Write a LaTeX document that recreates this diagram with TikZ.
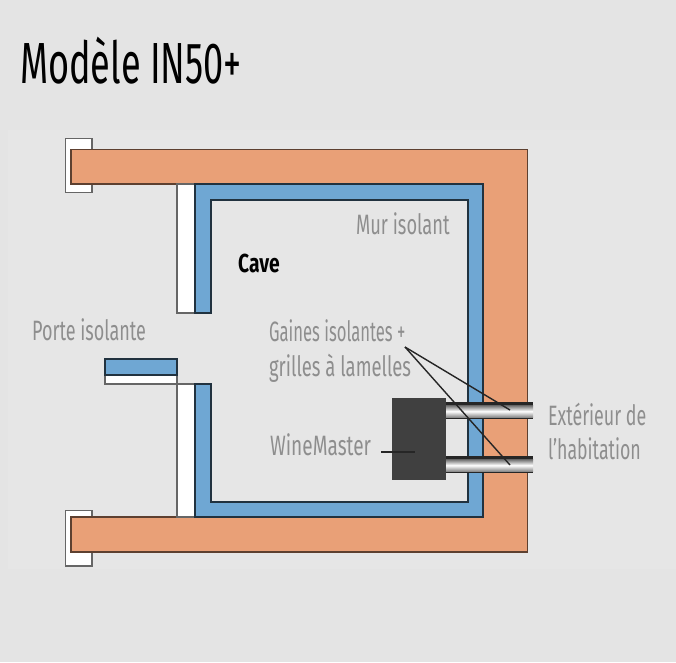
\documentclass[tikz,border=0pt]{standalone}
\usepackage{fontspec}
\setmainfont{Fira Sans}
\definecolor{bg}{HTML}{E4E4E4}
\definecolor{bglight}{HTML}{E6E6E6}
\definecolor{brick}{HTML}{E9A077}
\definecolor{insul}{HTML}{6FA7D3}
\definecolor{lab}{HTML}{8E8E8E}
\definecolor{dev}{HTML}{404040}
\tikzset{
  x=1pt,y=-1pt,
  wall/.style={fill=brick,draw=brick!40!black,line width=1.2pt,line join=miter},
  blue/.style={fill=insul,draw=insul!30!black,line width=1.2pt},
  whitebox/.style={fill=white,draw=black!60,line width=1.5pt},
  lbl/.style={text=lab,font=\fontsize{28}{32}\selectfont,inner sep=0pt,align=left,anchor=west},
  leader/.style={draw=black!85,line width=1.4pt},
}
\begin{document}
\begin{tikzpicture}
\useasboundingbox (0,0) rectangle (676,662);
\fill[bg] (0,0) rectangle (676,662);
\fill[bglight] (8,130) rectangle (676,569);
% brackets
\draw[whitebox] (65.5,138.5) rectangle (92,192.5);
\draw[whitebox] (65.5,510.5) rectangle (92,566);
% orange wall
\draw[wall] (71,149.5) -- (527.5,149.5) -- (527.5,552) -- (71,552) -- (71,517) -- (483,517) -- (483,184) -- (71,184) -- cycle;
% white liners
\draw[whitebox] (177,184) rectangle (195,313);
\draw[whitebox] (177,384) rectangle (195,517);
% blue insulation
\draw[blue] (195,184) -- (483,184) -- (483,517) -- (195,517) -- (195,384) -- (211,384) -- (211,502) -- (468,502) -- (468,200) -- (211,200) -- (211,313) -- (195,313) -- cycle;
% door
\draw[whitebox] (105,375) rectangle (177,384);
\draw[blue] (105,359) rectangle (177,375);
% WineMaster
\fill[dev] (392,398) rectangle (446,480);
% pipes
\fill[black!85] (446,402) rectangle (533,419);
\shade[top color=black!55,bottom color=black!45,middle color=white] (446,405.5) rectangle (533,417);
\fill[black!85] (446,456) rectangle (533,473);
\shade[top color=black!55,bottom color=black!45,middle color=white] (446,459.5) rectangle (533,471);
% texts
\node[anchor=west,inner sep=0pt,font=\fontsize{58}{66}\selectfont,xscale=.623] (title) at (20,61) {Modèle IN50+};
\node[lbl,xscale=.652] (mur) at (356,224) {Mur isolant};
\node[anchor=west,inner sep=0pt,font=\fontsize{26}{30}\selectfont\bfseries,xscale=.74] (cave) at (238,263) {Cave};
\node[lbl,xscale=.643] (porte) at (32,330) {Porte isolante};
\node[lbl,xscale=.594] (gaines) at (269,331) {Gaines isolantes +};
\node[lbl,xscale=.66] (grilles) at (269,368) {grilles à lamelles};
\node[lbl,xscale=.68] (wm) at (270,445) {WineMaster};
\node[lbl,xscale=.638] (ext) at (548,414) {Extérieur de};
\node[lbl,xscale=.634] (hab) at (548,449) {l'habitation};
% leaders
\coordinate (apex) at (405,347);
\coordinate (p1) at (510,410);
\coordinate (p2) at (510,465);
\coordinate (wa) at (381,452);
\coordinate (wb) at (415,452);
\draw[leader] (apex) -- (p1);
\draw[leader] (apex) -- (p2);
\draw[leader] (wa) -- (wb);
\end{tikzpicture}
\end{document}
